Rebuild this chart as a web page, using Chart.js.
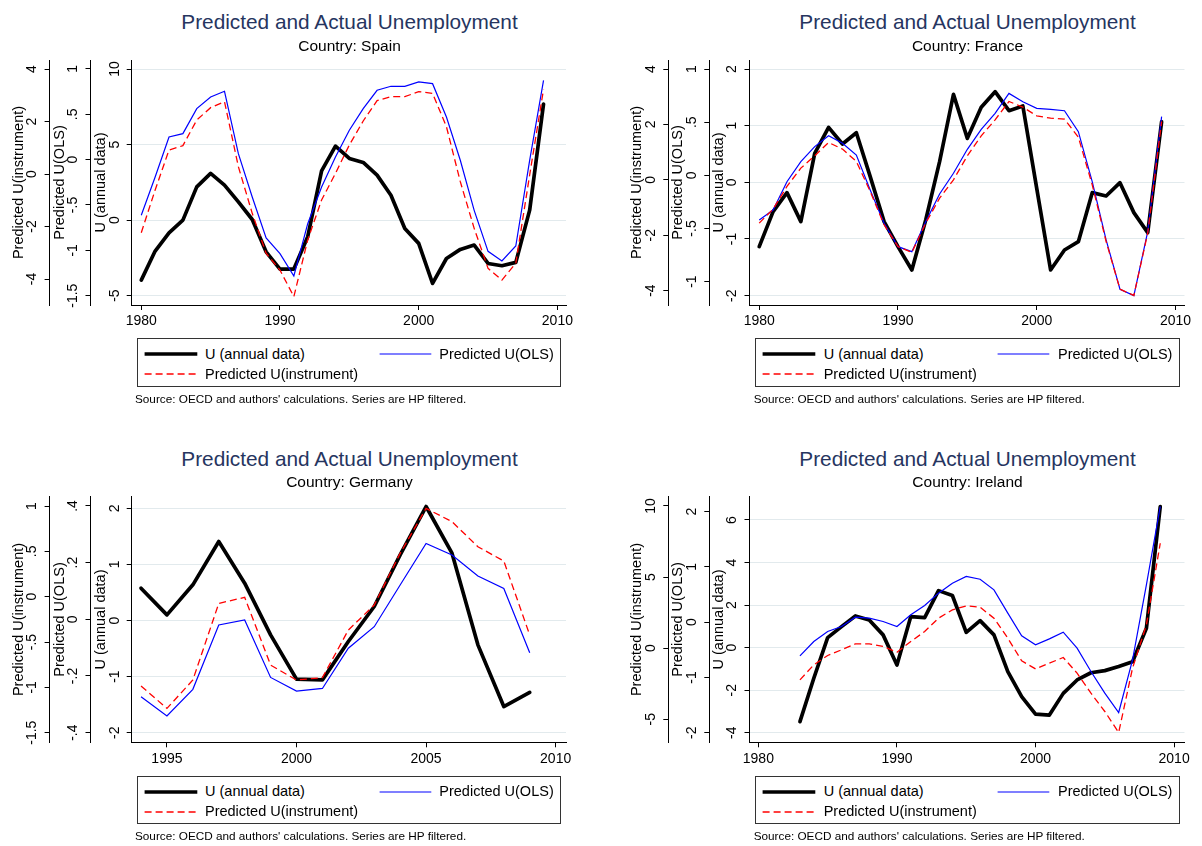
<!DOCTYPE html>
<html><head><meta charset="utf-8">
<script src="https://cdn.jsdelivr.net/npm/chart.js@4.4.1/dist/chart.umd.min.js"></script>
<style>
body{margin:0;background:#fff;width:1202px;height:846px;position:relative;overflow:hidden;font-family:"Liberation Sans",Arial,sans-serif;}
.ttl{position:absolute;font-size:20.8px;line-height:20.8px;color:#26355f;white-space:nowrap;transform:translateX(-50%);}
.sub{position:absolute;font-size:15.5px;line-height:15.5px;color:#000;white-space:nowrap;transform:translateX(-50%);}
.leg{position:absolute;border:1px solid #333;box-sizing:border-box;background:#fff;}
.leg span{position:absolute;font-size:14.5px;line-height:14.5px;white-space:nowrap;color:#000;}
.leg svg{position:absolute;left:0;top:0;}
.note{position:absolute;font-size:11.75px;line-height:11.75px;white-space:nowrap;color:#000;}
canvas{position:absolute;}
</style>
</head><body>
<script>
const FONT = '"Liberation Sans", Arial, sans-serif';

// ---------- Spain ----------
const spainYears = [1980,1981,1982,1983,1984,1985,1986,1987,1988,1989,1990,1991,1992,1993,1994,1995,1996,1997,1998,1999,2000,2001,2002,2003,2004,2005,2006,2007,2008,2009];
const spainActual = [-3.97,-2.05,-0.84,0.00,2.20,3.09,2.32,1.21,0.04,-2.10,-3.24,-3.24,-1.10,3.26,4.90,4.08,3.82,2.98,1.65,-0.55,-1.54,-4.19,-2.54,-1.94,-1.65,-2.87,-3.02,-2.80,0.66,7.68];
const spainOLS = [-0.614,-0.191,0.25,0.287,0.563,0.691,0.754,0.066,-0.412,-0.864,-1.037,-1.283,-0.706,-0.301,0.029,0.324,0.563,0.765,0.809,0.809,0.857,0.838,0.471,-0.007,-0.559,-1.011,-1.118,-0.952,-0.007,0.875];
const spainInstr = [-2.235,-0.61,0.914,1.079,2.057,2.527,2.756,0.279,-1.498,-3.02,-3.66,-4.67,-2.51,-0.99,0.025,1.105,2.019,2.794,2.946,2.946,3.137,3.073,1.803,-0.292,-2.07,-3.594,-4.04,-3.40,-0.038,3.225];
const spainXTicks = [1980,1990,2000,2010];
const spainActualTicks = [10,5,0,-5];
const spainOLSTicks = [1,0.5,0,-0.5,-1,-1.5];
const spainInstrTicks = [4,2,0,-2,-4];

// ---------- France ----------
const franceYears = [1980,1981,1982,1983,1984,1985,1986,1987,1988,1989,1990,1991,1992,1993,1994,1995,1996,1997,1998,1999,2000,2001,2002,2003,2004,2005,2006,2007,2008,2009];
const franceActual = [-1.135,-0.518,-0.182,-0.694,0.512,0.97,0.676,0.876,0.1,-0.694,-1.135,-1.547,-0.665,0.365,1.553,0.776,1.324,1.6,1.265,1.347,-0.106,-1.547,-1.194,-1.047,-0.182,-0.241,-0.006,-0.535,-0.888,1.071];
const franceOLS = [-0.42,-0.326,-0.06,0.129,0.27,0.373,0.301,0.191,-0.138,-0.451,-0.671,-0.718,-0.436,-0.176,0.019,0.245,0.433,0.583,0.771,0.693,0.63,0.621,0.608,0.411,-0.06,-0.608,-1.072,-1.132,-0.53,0.552];
const franceInstr = [-1.564,-1.059,-0.241,0.421,0.866,1.348,1.107,0.662,-0.421,-1.625,-2.407,-2.623,-1.564,-0.662,0,0.866,1.588,2.166,2.828,2.623,2.31,2.226,2.19,1.54,-0.18,-2.226,-3.947,-4.176,-1.925,2.106];
const franceXTicks = [1980,1990,2000,2010];
const franceActualTicks = [2,1,0,-1,-2];
const franceOLSTicks = [1,0.5,0,-0.5,-1];
const franceInstrTicks = [4,2,0,-2,-4];

// ---------- Germany ----------
const germanyYears = [1994,1995,1996,1997,1998,1999,2000,2001,2002,2003,2004,2005,2006,2007,2008,2009];
const germanyActual = [0.576,0.101,0.636,1.408,0.665,-0.255,-1.046,-1.058,-0.374,0.25,1.171,2.032,1.2,-0.434,-1.533,-1.283];
const germanyOLS = [-0.273,-0.341,-0.247,-0.02,-0.002,-0.205,-0.253,-0.244,-0.102,-0.026,0.121,0.268,0.227,0.153,0.109,-0.118];
const germanyInstr = [-0.985,-1.232,-0.919,-0.074,-0.007,-0.754,-0.919,-0.893,-0.368,-0.092,0.478,0.974,0.827,0.551,0.393,-0.423];
const germanyXTicks = [1995,2000,2005,2010];
const germanyActualTicks = [2,1,0,-1,-2];
const germanyOLSTicks = [0.4,0.2,0,-0.2,-0.4];
const germanyInstrTicks = [1,0.5,0,-0.5,-1,-1.5];

// ---------- Ireland ----------
const irelandYears = [1983,1984,1985,1986,1987,1988,1989,1990,1991,1992,1993,1994,1995,1996,1997,1998,1999,2000,2001,2002,2003,2004,2005,2006,2007,2008,2009];
const irelandActual = [-3.48,-1.44,0.47,0.99,1.49,1.30,0.60,-0.815,1.46,1.41,2.68,2.45,0.72,1.27,0.60,-1.13,-2.30,-3.13,-3.17,-2.15,-1.52,-1.18,-1.08,-0.89,-0.66,0.91,6.63];
const irelandOLS = [-0.609,-0.35,-0.169,-0.078,0.09,0.072,0.012,-0.078,0.133,0.302,0.525,0.706,0.827,0.778,0.585,0.163,-0.247,-0.41,-0.302,-0.181,-0.471,-0.893,-1.285,-1.635,-0.682,0.676,2.094];
const irelandInstr = [-2.226,-1.172,-0.516,-0.117,0.305,0.305,0.117,-0.281,0.469,1.172,2.109,2.695,2.976,2.883,2.109,0.703,-0.891,-1.453,-1.055,-0.656,-1.758,-3.164,-4.453,-5.93,-1.406,1.64,7.38];
const irelandXTicks = [1980,1990,2000,2010];
const irelandActualTicks = [6,4,2,0,-2,-4];
const irelandOLSTicks = [2,1,0,-1,-2];
const irelandInstrTicks = [10,5,0,-5];

const titleText = 'Predicted and Actual Unemployment';
const legendLabels = ['U (annual data)', 'Predicted U(OLS)', 'Predicted U(instrument)'];
const axisTitles = ['U (annual data)', 'Predicted U(OLS)', 'Predicted U(instrument)'];
const noteText = "Source: OECD and authors' calculations. Series are HP filtered.";

const GRID = '#e2eaed';
const TICK_SIZE = 14;

function fmt(v){
  let s = String(v);
  s = s.replace(/^0\./, '.').replace(/^-0\./, '-.');
  return s;
}
const mctx = document.createElement('canvas').getContext('2d');
function widest(labels){
  mctx.font = TICK_SIZE + 'px ' + FONT;
  return Math.max.apply(null, labels.map(l => mctx.measureText(l).width));
}

function yAxis(ticks, range, width, title, weight, showGrid){
  const labels = ticks.map(fmt);
  const w = widest(labels);
  return {
    type: 'linear', axis: 'y', position: 'left', weight: weight,
    min: range[0], max: range[1],
    afterBuildTicks: s => { s.ticks = ticks.map(v => ({value: v})); },
    afterFit: s => { s.width = width; },
    ticks: {
      callback: v => fmt(v), minRotation: 90, maxRotation: 90, crossAlign: 'center',
      padding: 12 - w / 2, autoSkip: false, color: '#000',
      font: {family: FONT, size: TICK_SIZE}
    },
    grid: {drawOnChartArea: showGrid, color: GRID, lineWidth: 1, drawTicks: true,
           tickLength: 5, tickColor: '#000', tickWidth: 1},
    border: {display: true, color: '#000', width: 1},
    title: {display: true, text: title, color: '#000',
            font: {family: FONT, size: 14.5, lineHeight: 1},
            padding: {top: width - 31 - 7.25, bottom: 0}}
  };
}

function panel(p){
  const CL = Math.floor(p.A1 - 45);
  const CT = Math.floor(p.T - 20);
  const W = Math.ceil(p.R + 14 - CL);
  const H = Math.ceil(p.B + 36 - CT);
  const padLeft = (p.A1 - 41) - CL;
  const padTop = p.T - CT;
  const padRight = CL + W - p.R;
  const padBottom = CT + H - p.B - 30;
  const cv = document.createElement('canvas');
  cv.width = W; cv.height = H;
  cv.style.left = CL + 'px'; cv.style.top = CT + 'px';
  cv.style.width = W + 'px'; cv.style.height = H + 'px';
  document.body.appendChild(cv);
  const pts = arr => p.years.map((y, i) => ({x: y, y: arr[i]}));
  new Chart(cv, {
    type: 'line',
    data: {datasets: [
      {label: legendLabels[0], data: pts(p.actual), yAxisID: 'yA', borderColor: '#000', borderWidth: 3.7,
       borderJoinStyle: 'round', borderCapStyle: 'round', order: 3},
      {label: legendLabels[1], data: pts(p.ols), yAxisID: 'yO', borderColor: '#0000ff', borderWidth: 1.2, order: 2},
      {label: legendLabels[2], data: pts(p.instr), yAxisID: 'yI', borderColor: '#ff0000', borderWidth: 1.3,
       borderDash: [7, 4], order: 1}
    ]},
    options: {
      responsive: false, maintainAspectRatio: false, animation: false,
      layout: {padding: {left: padLeft, top: padTop, right: padRight, bottom: padBottom}},
      elements: {point: {radius: 0, hoverRadius: 0}, line: {tension: 0, fill: false}},
      plugins: {legend: {display: false}, tooltip: {enabled: false}, title: {display: false}},
      events: [],
      scales: {
        x: {
          type: 'linear', position: 'bottom', min: p.xr[0], max: p.xr[1],
          afterBuildTicks: s => { s.ticks = p.xticks.map(v => ({value: v})); },
          afterFit: s => { s.height = 30; },
          ticks: {callback: v => String(v), padding: 3, minRotation: 0, maxRotation: 0, autoSkip: false,
                  color: '#000', font: {family: FONT, size: TICK_SIZE}},
          grid: {drawOnChartArea: false, drawTicks: true, tickLength: 5, tickColor: '#000'},
          border: {display: true, color: '#000', width: 1}
        },
        yA: yAxis(p.aTicks, p.ar, p.A3 - p.A2, axisTitles[0], 1, true),
        yO: yAxis(p.oTicks, p.or, p.A2 - p.A1, axisTitles[1], 2, false),
        yI: yAxis(p.iTicks, p.ir, 41, axisTitles[2], 3, false)
      }
    }
  });
  // HTML title, legend, note
  const add = (cls, txt, x, y) => { const d = document.createElement('div'); d.className = cls; d.textContent = txt;
    d.style.left = x + 'px'; d.style.top = y + 'px'; document.body.appendChild(d); return d; };
  add('ttl', titleText, p.tx, p.T - 47.7);
  add('sub', 'Country: ' + p.name, p.tx, p.T - 22.3);
  const lg = document.createElement('div'); lg.className = 'leg';
  const lx = p.A1 + 87.1, ly = p.B + 33.3;
  lg.style.left = lx + 'px'; lg.style.top = ly + 'px'; lg.style.width = '424.3px'; lg.style.height = '48.4px';
  lg.innerHTML = '<svg width="424" height="48">' +
    '<line x1="6.6" y1="15" x2="59.3" y2="15" stroke="#000" stroke-width="3.7"/>' +
    '<line x1="241.6" y1="15" x2="293.3" y2="15" stroke="#0000ff" stroke-width="1.2"/>' +
    '<line x1="6.6" y1="35" x2="59.3" y2="35" stroke="#ff0000" stroke-width="1.3" stroke-dasharray="7 4"/>' +
    '</svg>';
  const sp = (t, x, y) => { const s = document.createElement('span'); s.textContent = t; s.style.left = x + 'px'; s.style.top = y + 'px'; lg.appendChild(s); };
  sp(legendLabels[0], 67.3, 7.4);
  sp(legendLabels[1], 301.6, 7.4);
  sp(legendLabels[2], 67.3, 27.4);
  document.body.appendChild(lg);
  add('note', noteText, p.A1 + 85.4, p.B + 87.6);
}

panel({name: 'Spain', years: spainYears, actual: spainActual, ols: spainOLS, instr: spainInstr,
  xticks: spainXTicks, aTicks: spainActualTicks, oTicks: spainOLSTicks, iTicks: spainInstrTicks,
  A1: 49.6, A2: 90.5, A3: 131.7, R: 566, T: 60, B: 305, tx: 349.5,
  xr: [1979.31, 2010.62], ar: [-5.62, 10.6], or: [-1.603, 1.099], ir: [-4.99, 4.343]});

panel({name: 'France', years: franceYears, actual: franceActual, ols: franceOLS, instr: franceInstr,
  xticks: franceXTicks, aTicks: franceActualTicks, oTicks: franceOLSTicks, iTicks: franceInstrTicks,
  A1: 668.3, A2: 709.3, A3: 749.5, R: 1184.5, T: 60, B: 305, tx: 967.5,
  xr: [1979.3, 2010.65], ar: [-2.165, 2.159], or: [-1.22, 1.085], ir: [-4.52, 4.325]});

panel({name: 'Germany', years: germanyYears, actual: germanyActual, ols: germanyOLS, instr: germanyInstr,
  xticks: germanyXTicks, aTicks: germanyActualTicks, oTicks: germanyOLSTicks, iTicks: germanyInstrTicks,
  A1: 49.6, A2: 90.5, A3: 131.7, R: 566, T: 496.7, B: 742.3, tx: 349.5,
  xr: [1993.64, 2010.40], ar: [-2.171, 2.207], or: [-0.434, 0.4328], ir: [-1.606, 1.1026]});

panel({name: 'Ireland', years: irelandYears, actual: irelandActual, ols: irelandOLS, instr: irelandInstr,
  xticks: irelandXTicks, aTicks: irelandActualTicks, oTicks: irelandOLSTicks, iTicks: irelandInstrTicks,
  A1: 668.3, A2: 709.3, A3: 749.5, R: 1184.5, T: 496.7, B: 742.3, tx: 967.5,
  xr: [1979.36, 2010.75], ar: [-4.45, 7.095], or: [-2.174, 2.271], ir: [-6.62, 10.654]});
</script>
</body></html>
